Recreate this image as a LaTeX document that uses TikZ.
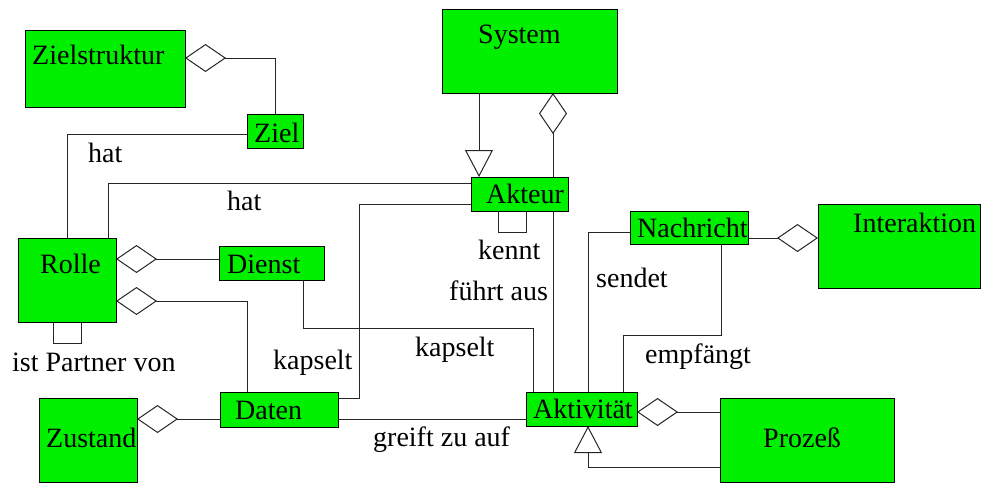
\documentclass[tikz,border=0pt]{standalone}
\usepackage{fontspec}
\setmainfont{Liberation Serif}
\usetikzlibrary{arrows.meta}
\definecolor{boxgreen}{RGB}{0,240,0}
\begin{document}
\begin{tikzpicture}[x=1pt,y=-1pt,
  box/.style={draw=black, fill=boxgreen, line width=1pt, anchor=north west, inner sep=0pt, outer sep=0pt},
  txt/.style={anchor=base west, inner sep=0pt, font=\fontsize{28}{30}\selectfont},
  conn/.style={draw=black!85, line width=1pt},
  agg/.style={conn, {Diamond[open, length=41pt, width=28pt, line join=miter]}-},
  aggend/.style={conn, -{Diamond[open, length=41pt, width=28pt, line join=miter]}},
  gen/.style={conn, -{Triangle[open, length=27pt, width=28pt, line join=miter]}}]
\useasboundingbox (0,0) rectangle (981,483);
% boxes
\node[box, minimum width=160pt, minimum height=77pt] (zs) at (25,30) {};
\node[box, minimum width=56pt, minimum height=34pt] (ziel) at (247,114) {};
\node[box, minimum width=175pt, minimum height=84pt] (sys) at (442,9) {};
\node[box, minimum width=97pt, minimum height=34pt] (akt) at (471,177) {};
\node[box, minimum width=118pt, minimum height=33pt] (nach) at (630,211) {};
\node[box, minimum width=162pt, minimum height=84pt] (inter) at (818,204) {};
\node[box, minimum width=98pt, minimum height=84pt] (rolle) at (18,238) {};
\node[box, minimum width=105pt, minimum height=34pt] (dienst) at (219,246) {};
\node[box, minimum width=98pt, minimum height=84pt] (zust) at (39,398) {};
\node[box, minimum width=118pt, minimum height=35pt] (daten) at (220,392) {};
\node[box, minimum width=111pt, minimum height=34pt] (aktiv) at (526,392) {};
\node[box, minimum width=174pt, minimum height=84pt] (proz) at (720,398) {};
% box texts
\node[txt] (tzs) at (32,64) {Zielstruktur};
\node[txt] (tziel) at (254,142) {Ziel};
\node[txt] (tsys) at (478,43) {System};
\node[txt] (takt) at (486,203) {Akteur};
\node[txt] (tnach) at (637,237) {Nachricht};
\node[txt] (tinter) at (853,232) {Interaktion};
\node[txt] (trolle) at (40,273) {Rolle};
\node[txt] (tdienst) at (227,273) {Dienst};
\node[txt] (tzust) at (46,447) {Zustand};
\node[txt] (tdaten) at (235,419) {Daten};
\node[txt] (taktiv) at (533,418) {Aktivität};
\node[txt] (tproz) at (763,447) {Prozeß};
% connectors
\draw[agg] (zs.east |- 0,58) -| (ziel.north);
\draw[conn] (ziel.west |- 0,134) -| (rolle.north);
\draw[conn] (rolle.north -| 108,0) |- (akt.west |- 0,183);
\draw[gen] (sys.south -| 479,0) -- (akt.north -| 479,0);
\draw[agg] (sys.south -| 553,0) -- (akt.north -| 553,0);
\draw[conn] (akt.south -| 553,0) -- (aktiv.north -| 553,0);
\draw[conn] (akt.south -| 498,0) |- (526,232) -- (akt.south -| 526,0);
\draw[conn] (akt.west |- 0,204) -| (359,398) -- (daten.east |- 0,398);
\draw[agg] (rolle.east |- 0,259) -- (dienst.west |- 0,259);
\draw[agg] (rolle.east |- 0,301) -| (daten.north -| 247,0);
\draw[conn] (rolle.south -| 53,0) |- (81,343) -- (rolle.south -| 81,0);
\draw[conn] (dienst.south -| 303,0) |- (533,328) -- (aktiv.north -| 533,0);
\draw[agg] (zust.east |- 0,419) -- (daten.west |- 0,419);
\draw[conn] (daten.east |- 0,419) -- (aktiv.west |- 0,419);
\draw[agg] (aktiv.east |- 0,412) -- (proz.west |- 0,412);
\draw[gen] (proz.west |- 0,467) -| (aktiv.south -| 588,0);
\draw[conn] (nach.west |- 0,232) -| (aktiv.north -| 588,0);
\draw[conn] (nach.south -| 721,0) |- (623,335) -- (aktiv.north -| 623,0);
\draw[aggend] (nach.east |- 0,238) -- (inter.west |- 0,238);
% connector labels
\node[txt] (lhat1) at (88,162) {hat};
\node[txt] (lhat2) at (227,210) {hat};
\node[txt] (lkennt) at (478,259) {kennt};
\node[txt] (lfuehrt) at (449,300) {führt aus};
\node[txt] (lkap1) at (273,369) {kapselt};
\node[txt] (lkap2) at (415,356) {kapselt};
\node[txt] (lpartner) at (12,371) {ist Partner von};
\node[txt] (lgreift) at (373,446) {greift zu auf};
\node[txt] (lsendet) at (596,287) {sendet};
\node[txt] (lempf) at (645,363) {empfängt};
\end{tikzpicture}
\end{document}
